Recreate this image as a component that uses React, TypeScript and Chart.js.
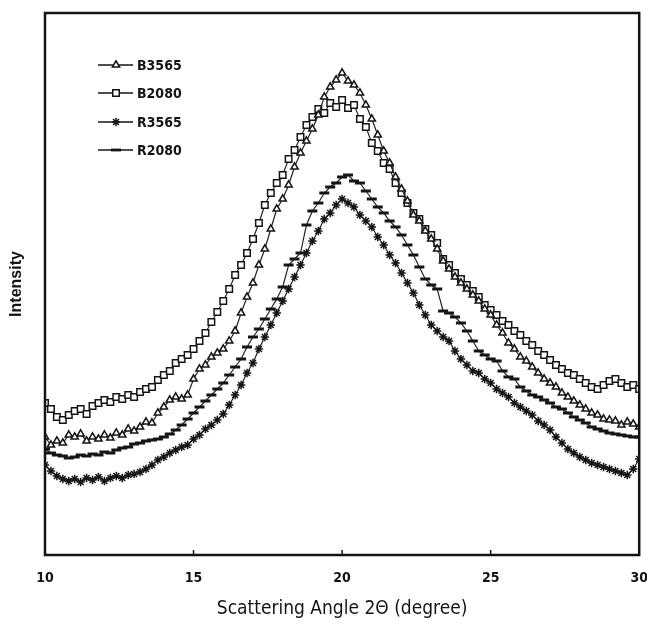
import React, { useEffect, useRef } from 'react';
import { Chart, registerables } from 'chart.js';
import { drawPoint } from 'chart.js/helpers';

Chart.register(...registerables);

const ANGLES = [
  10.0, 10.2, 10.4, 10.6, 10.8, 11.0, 11.2, 11.4, 11.6, 11.8,
  12.0, 12.2, 12.4, 12.6, 12.8, 13.0, 13.2, 13.4, 13.6, 13.8,
  14.0, 14.2, 14.4, 14.6, 14.8, 15.0, 15.2, 15.4, 15.6, 15.8,
  16.0, 16.2, 16.4, 16.6, 16.8, 17.0, 17.2, 17.4, 17.6, 17.8,
  18.0, 18.2, 18.4, 18.6, 18.8, 19.0, 19.2, 19.4, 19.6, 19.8,
  20.0, 20.2, 20.4, 20.6, 20.8, 21.0, 21.2, 21.4, 21.6, 21.8,
  22.0, 22.2, 22.4, 22.6, 22.8, 23.0, 23.2, 23.4, 23.6, 23.8,
  24.0, 24.2, 24.4, 24.6, 24.8, 25.0, 25.2, 25.4, 25.6, 25.8,
  26.0, 26.2, 26.4, 26.6, 26.8, 27.0, 27.2, 27.4, 27.6, 27.8,
  28.0, 28.2, 28.4, 28.6, 28.8, 29.0, 29.2, 29.4, 29.6, 29.8,
  30.0,
];

const B3565 = [
  118, 110, 114, 112, 120, 118, 121, 114, 118, 116,
  120, 117, 122, 120, 126, 124, 128, 133, 132, 142,
  148, 155, 158, 156, 160, 176, 186, 190, 198, 202,
  206, 214, 224, 242, 258, 272, 290, 306, 326, 346,
  356, 370, 388, 402, 414, 426, 440, 458, 468, 475,
  482, 474, 470, 462, 450, 436, 420, 404, 392, 378,
  366, 354, 340, 334, 324, 316, 306, 294, 286, 278,
  272, 266, 260, 254, 246, 240, 230, 222, 212, 206,
  198, 194, 188, 182, 176, 172, 168, 162, 158, 154,
  150, 146, 142, 140, 136, 135, 134, 130, 133, 131,
  128,
];

const B2080 = [
  152, 146, 138, 135, 140, 144, 146, 141, 149, 152,
  155, 153, 158, 156, 160, 158, 163, 166, 168, 175,
  180, 184, 192, 196, 200, 206, 214, 222, 233, 243,
  254, 266, 280, 290, 302, 316, 332, 350, 362, 372,
  380, 396, 405, 418, 430, 438, 446, 442, 452, 448,
  455, 447, 450, 436, 428, 412, 404, 392, 386, 372,
  362, 352, 342, 336, 326, 320, 312, 296, 290, 282,
  276, 270, 264, 258, 250, 245, 240, 234, 230, 224,
  220, 214, 210, 204, 200, 195, 190, 186, 182, 180,
  176, 172, 168, 166, 170, 174, 176, 172, 168, 170,
  166,
];

const R3565 = [
  90, 84, 79, 76, 74, 76, 73, 77, 75, 78,
  74, 77, 79, 77, 80, 81, 83, 86, 90, 95,
  98, 102, 105, 108, 110, 116, 120, 126, 130, 135,
  141, 150, 160, 170, 182, 192, 206, 218, 230, 242,
  254, 266, 278, 290, 302, 314, 324, 336, 342, 350,
  356, 352, 348, 340, 334, 328, 318, 310, 300, 292,
  282, 272, 262, 250, 240, 230, 224, 218, 214, 204,
  196, 190, 184, 182, 176, 172, 166, 162, 158, 152,
  148, 144, 140, 134, 130, 125, 118, 112, 106, 102,
  98, 95, 92, 90, 88, 86, 84, 82, 80, 86,
  96,
];

const R2080 = [
  106, 102, 100, 99, 97, 98, 100, 99, 101, 100,
  103, 102, 105, 107, 108, 111, 112, 114, 115, 116,
  118, 121, 125, 130, 136, 142, 148, 154, 160, 166,
  172, 180, 188, 196, 208, 218, 226, 236, 246, 256,
  268, 290, 296, 302, 330, 344, 352, 362, 368, 372,
  378, 380, 374, 372, 364, 356, 348, 342, 334, 328,
  320, 310, 300, 288, 276, 270, 266, 244, 242, 238,
  232, 224, 214, 204, 200, 196, 194, 184, 178, 176,
  168, 164, 160, 158, 155, 152, 148, 146, 142, 138,
  135, 132, 128, 126, 124, 122, 121, 120, 119, 118,
  118,
];

const SERIES_NAMES = ['B3565', 'B2080', 'R3565', 'R2080'];
const X_TICKS = [10, 15, 20, 25, 30];

const FONT = "'Liberation Sans Narrow', 'DejaVu Sans Condensed', 'Liberation Sans', sans-serif";
const INK = '#141414';

const STYLES = [
  { pointStyle: 'triangle', radius: 4.2, borderWidth: 1.5, fill: '#ffffff' },
  { pointStyle: 'rect', radius: 4.6, borderWidth: 1.5, fill: '#ffffff' },
  { pointStyle: 'star', radius: 4.2, borderWidth: 1.5, fill: '#ffffff' },
  { pointStyle: 'line', radius: 5, borderWidth: 2.8, fill: '#ffffff' },
];

const framePlugin = {
  id: 'frameAndLegend',
  afterDatasetsDraw(chart: any) {
    const { ctx, chartArea, scales } = chart;
    const { left, right, top, bottom } = chartArea;
    ctx.save();
    ctx.strokeStyle = INK;
    ctx.lineWidth = 2.5;
    ctx.strokeRect(left, top, right - left, bottom - top);
    ctx.lineWidth = 1.5;
    for (const v of X_TICKS.slice(1, -1)) {
      const px = scales.x.getPixelForValue(v);
      ctx.beginPath();
      ctx.moveTo(px, bottom);
      ctx.lineTo(px, bottom - 5);
      ctx.stroke();
    }
    const legendYs = [65, 93, 122, 150];
    SERIES_NAMES.forEach((name, i) => {
      const y = legendYs[i];
      ctx.strokeStyle = INK;
      ctx.lineWidth = 1.4;
      ctx.beginPath();
      ctx.moveTo(98, y);
      ctx.lineTo(133, y);
      ctx.stroke();
      const st = STYLES[i];
      ctx.fillStyle = st.fill;
      ctx.strokeStyle = INK;
      ctx.lineWidth = st.borderWidth;
      drawPoint(ctx, { pointStyle: st.pointStyle, radius: st.radius, borderWidth: st.borderWidth, rotation: 0 } as any, 116, y);
      ctx.fillStyle = INK;
      ctx.font = `bold 14px ${FONT}`;
      ctx.textBaseline = 'middle';
      ctx.textAlign = 'left';
      ctx.fillText(name, 137, y + 1);
    });
    ctx.restore();
  },
};

export default function App() {
  const ref = useRef<HTMLCanvasElement | null>(null);
  useEffect(() => {
    if (!ref.current) return;
    const seriesValues = [B3565, B2080, R3565, R2080];
    const datasets = SERIES_NAMES.map((name, i) => ({
      label: name,
      data: ANGLES.map((a, j) => ({ x: a, y: seriesValues[i][j] })),
      borderColor: '#222',
      borderWidth: 1.2,
      pointStyle: STYLES[i].pointStyle,
      pointRadius: STYLES[i].radius,
      pointBorderWidth: STYLES[i].borderWidth,
      pointBorderColor: INK,
      pointBackgroundColor: STYLES[i].fill,
      tension: 0,
    }));
    const chart = new Chart(ref.current, {
      type: 'line',
      data: { datasets },
      plugins: [framePlugin],
      options: {
        animation: false,
        responsive: false,
        devicePixelRatio: 1,
        layout: { padding: { top: 13, right: 7, left: 0, bottom: 0 } },
        plugins: { legend: { display: false }, tooltip: { enabled: false } },
        scales: {
          x: {
            type: 'linear',
            min: 10,
            max: 30,
            afterFit: (s: any) => { s.height = 70; s.paddingLeft = 0; s.paddingRight = 0; },
            grid: { display: false, drawTicks: false },
            border: { display: false },
            ticks: {
              stepSize: 5,
              padding: 15,
              color: INK,
              font: { family: FONT, size: 14, weight: 'bold' },
            },
            title: {
              display: true,
              text: 'Scattering Angle 2Θ (degree)',
              color: INK,
              font: { family: FONT, size: 19 },
              padding: { top: 0, bottom: 5 },
            },
          },
          y: {
            type: 'linear',
            min: 0,
            max: 542,
            afterFit: (s: any) => { s.width = 45; s.paddingTop = 0; s.paddingBottom = 0; },
            grid: { display: false, drawTicks: false },
            border: { display: false },
            ticks: { display: false },
            title: {
              display: true,
              text: 'Intensity',
              color: INK,
              font: { family: "'Liberation Sans', Arial, sans-serif", size: 16, weight: 'bold' },
              padding: { top: 7, bottom: 0 },
            },
          },
        },
      } as any,
    });
    return () => chart.destroy();
  }, []);
  return (
    <div style={{ position: 'absolute', left: 0, top: 0, width: 647, height: 625, background: '#fff' }}>
      <canvas ref={ref} width={647} height={625} />
    </div>
  );
}
